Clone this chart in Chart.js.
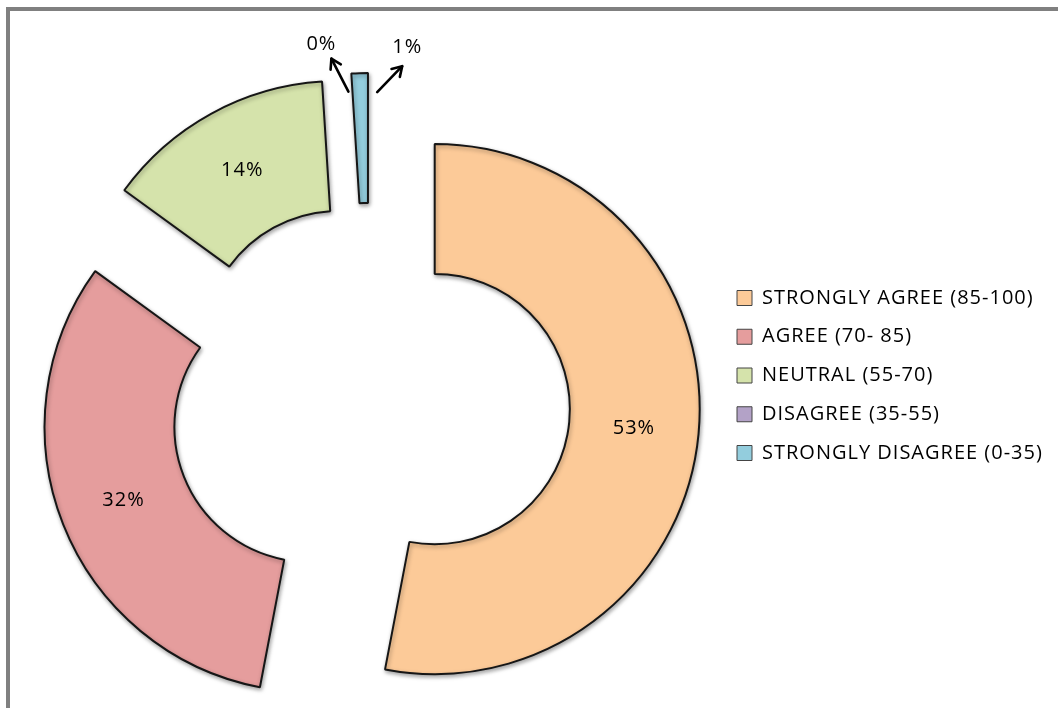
<!DOCTYPE html>
<html><head><meta charset="utf-8">
<script src="https://cdn.jsdelivr.net/npm/chart.js@4.4.0/dist/chart.umd.min.js"></script>
<style>
html,body{margin:0;padding:0;background:#fff;overflow:hidden;width:1058px;height:708px;position:relative}
#frame{position:absolute;left:6px;top:7px;width:1200px;height:900px;border-left:4px solid #808080;border-top:4px solid #808080;}
#wrap{position:absolute;left:0;top:0;width:1200px;height:708px}
</style></head><body>
<div id="frame"></div>
<div id="wrap"><canvas id="c"></canvas></div>
<script>
// ---- data ----
const categories = ['STRONGLY AGREE (85-100)', 'AGREE (70- 85)', 'NEUTRAL (55-70)', 'DISAGREE (35-55)', 'STRONGLY DISAGREE (0-35)'];
const percentages = [53, 32, 14, 0, 1];
const sliceColors = ['#FCCA98', '#E59D9D', '#D5E3AB', '#B3A2C7', '#93CDDD'];

// ---- style / layout ----
const FONT = '"Open Sans", "Noto Sans", sans-serif';
const LETTER_SPACING = '1px';
const LEGEND_FONT = 20, LEGEND_BOX = 15, LEGEND_PAD = 18.75;
const TARGET_BOX_LEFT = 737, TARGET_CX = 370;
const PAD_TOP = 269.25, PAD_BOTTOM = 171.25;
const EXPLODE = 65;
// small-slice callouts: arrow start offset from slice, arrow vector, label offset from tip
const callouts = {
  3: {start: [-2, 0], vec: [-17, -33], label: [-10, -14]},
  4: {start: [17, 1], vec: [25, -26], label: [5, -19]}
};

const spacingPlugin = {
  id: 'letterSpacing',
  beforeLayout(chart) { chart.ctx.letterSpacing = LETTER_SPACING; },
  beforeDraw(chart) { chart.ctx.letterSpacing = LETTER_SPACING; }
};

const explodePlugin = {
  id: 'explode',
  beforeDatasetsDraw(chart) {
    const a = chart.chartArea;
    const cx = (a.left + a.right) / 2, cy = (a.top + a.bottom) / 2;
    chart.getDatasetMeta(0).data.forEach(arc => {
      const mid = (arc.startAngle + arc.endAngle) / 2;
      arc.x = cx + Math.cos(mid) * EXPLODE;
      arc.y = cy + Math.sin(mid) * EXPLODE;
    });
  },
  beforeDatasetDraw(chart) {
    const ctx = chart.ctx;
    ctx.save();
    ctx.shadowColor = 'rgba(0,0,0,0.35)';
    ctx.shadowBlur = 4;
    ctx.shadowOffsetX = 1;
    ctx.shadowOffsetY = 2;
  },
  afterDatasetDraw(chart) {
    chart.ctx.restore();
  }
};

function arrow(ctx, x0, y0, x1, y1) {
  ctx.beginPath();
  ctx.moveTo(x0, y0);
  ctx.lineTo(x1, y1);
  ctx.stroke();
  const ang = Math.atan2(y1 - y0, x1 - x0);
  const h = 11;
  ctx.beginPath();
  ctx.moveTo(x1 + Math.cos(ang + Math.PI - 0.55) * h, y1 + Math.sin(ang + Math.PI - 0.55) * h);
  ctx.lineTo(x1, y1);
  ctx.lineTo(x1 + Math.cos(ang + Math.PI + 0.55) * h, y1 + Math.sin(ang + Math.PI + 0.55) * h);
  ctx.stroke();
}

const labelPlugin = {
  id: 'sliceLabels',
  afterDatasetsDraw(chart) {
    const ctx = chart.ctx;
    const meta = chart.getDatasetMeta(0);
    ctx.save();
    ctx.font = '20px ' + FONT;
    ctx.fillStyle = '#000';
    ctx.strokeStyle = '#000';
    ctx.lineWidth = 2.6;
    ctx.lineCap = 'round';
    ctx.lineJoin = 'round';
    ctx.textAlign = 'center';
    ctx.textBaseline = 'middle';
    meta.data.forEach((arc, i) => {
      const text = percentages[i] + '%';
      const c = callouts[i];
      if (!c) {
        const p = arc.tooltipPosition();
        ctx.fillText(text, p.x, p.y);
      } else {
        const mid = (arc.startAngle + arc.endAngle) / 2;
        const r = arc.outerRadius - 18;
        const px = arc.x + Math.cos(mid) * r + c.start[0];
        const py = arc.y + Math.sin(mid) * r + c.start[1];
        const tx = px + c.vec[0], ty = py + c.vec[1];
        arrow(ctx, px, py, tx, ty);
        ctx.fillText(text, tx + c.label[0], ty + c.label[1]);
      }
    });
    ctx.restore();
  }
};

const baseGen = Chart.overrides.doughnut.plugins.legend.labels.generateLabels;

const chart = new Chart(document.getElementById('c'), {
  type: 'doughnut',
  data: {
    labels: categories,
    datasets: [{
      data: percentages,
      backgroundColor: sliceColors,
      borderColor: '#161616',
      borderWidth: 2,
      clip: false
    }]
  },
  options: {
    responsive: true,
    maintainAspectRatio: false,
    animation: false,
    events: [],
    radius: 265,
    cutout: '51%',
    layout: {padding: {top: PAD_TOP, bottom: PAD_BOTTOM, left: 0, right: 0}},
    plugins: {
      tooltip: {enabled: false},
      legend: {
        position: 'right',
        align: 'start',
        labels: {
          font: {family: FONT, size: LEGEND_FONT},
          color: '#000',
          boxWidth: LEGEND_BOX,
          boxHeight: LEGEND_BOX,
          padding: LEGEND_PAD,
          generateLabels: (ch) => baseGen(ch).map(l => Object.assign(l, {lineWidth: 1, strokeStyle: '#444'}))
        }
      }
    }
  },
  plugins: [spacingPlugin, explodePlugin, labelPlugin]
});

// align the legend and the doughnut centre with the reference layout
const hb = chart.legend.legendHitBoxes[0];
const delta = hb.left - TARGET_BOX_LEFT;
chart.options.layout.padding.right = delta;
chart.options.layout.padding.left = 2 * TARGET_CX - (chart.legend.left - delta);
chart.update();
</script>
</body></html>
